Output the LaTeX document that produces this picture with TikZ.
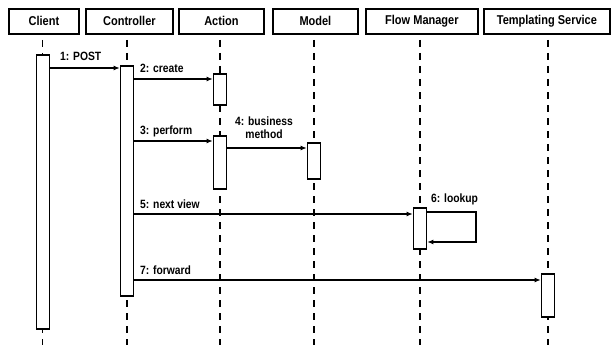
\documentclass[tikz,border=0pt]{standalone}
\usepackage{fontspec}
\setmainfont{Liberation Sans}[FakeStretch=0.86]
\usetikzlibrary{arrows.meta}
\begin{document}
\begin{tikzpicture}[x=1pt,y=-1pt,
  font=\fontsize{12.8}{14}\selectfont\bfseries,
  head/.style={draw,line width=1.8pt,minimum height=25pt,inner sep=0pt,anchor=north west},
  act/.style={draw,line width=1.6pt,fill=white,inner sep=0pt,minimum width=13pt,anchor=north},
  life/.style={line width=1.9pt,dash pattern=on 7pt off 6pt},
  msg/.style={line width=1.6pt,-{Latex[length=6pt,width=5pt]}},
  lbl/.style={inner sep=1pt,font=\fontsize{12}{13}\selectfont\bfseries}]
\useasboundingbox (0,0) rectangle (613,345);
% header boxes
\node[head,minimum width=70pt] (hc) at (8,8) {Client};
\node[head,minimum width=87pt] (hk) at (85,8) {Controller};
\node[head,minimum width=85pt] (ha) at (178,8) {Action};
\node[head,minimum width=85pt] (hm) at (272,8) {Model};
\node[head,minimum width=112pt] (hf) at (365,8) {Flow Manager};
\node[head,minimum width=126pt] (ht) at (483,8) {Templating Service};
% lifeline ends
\coordinate (ec) at (42.5,345);
\coordinate (ek) at (127,345);
\coordinate (ea) at (220,345);
\coordinate (em) at (314,345);
\coordinate (ef) at (420,345);
\coordinate (et) at (548,345);
\draw[life] (42.5,40) -- (ec);
\draw[life] (127,40) -- (ek);
\draw[life] (220,40) -- (ea);
\draw[life] (314,40) -- (em);
\draw[life] (420,40) -- (ef);
\draw[life] (548,40) -- (et);
% activations
\node[act,minimum height=274pt] (ac) at (43,54) {};
\node[act,minimum height=230pt] (ak) at (127,65) {};
\node[act,minimum height=31pt] (aa1) at (220,73) {};
\node[act,minimum height=53pt] (aa2) at (220,135) {};
\node[act,minimum height=36pt] (am) at (314,142) {};
\node[act,minimum height=41pt] (af) at (420,207) {};
\node[act,minimum height=43pt] (at) at (548,273) {};
% messages
\draw[msg] (ac.east |- 0,68) -- (ak.west |- 0,68);
\node[lbl,anchor=base west] at (59,61) {1: POST};
\draw[msg] (ak.east |- 0,79) -- (aa1.west |- 0,79);
\node[lbl,anchor=base west] at (139,73) {2: create};
\draw[msg] (ak.east |- 0,141) -- (aa2.west |- 0,141);
\node[lbl,anchor=base west] at (139,134) {3: perform};
\draw[msg] (aa2.east |- 0,148) -- (am.west |- 0,148);
\node[lbl,align=center] at (264,128) {4: business\\method};
\draw[msg] (ak.east |- 0,214) -- (af.west |- 0,214);
\node[lbl,anchor=base west] at (139,208) {5: next view};
\coordinate (lp1) at (476,212);
\coordinate (lp2) at (476,242);
\draw[msg] (af.east |- lp1) -- (lp1) -- (lp2) -- (af.east |- lp2);
\node[lbl,anchor=base west] at (430,202) {6: lookup};
\draw[msg] (ak.east |- 0,280) -- (at.west |- 0,280);
\node[lbl,anchor=base west] at (139,274) {7: forward};
\end{tikzpicture}
\end{document}
